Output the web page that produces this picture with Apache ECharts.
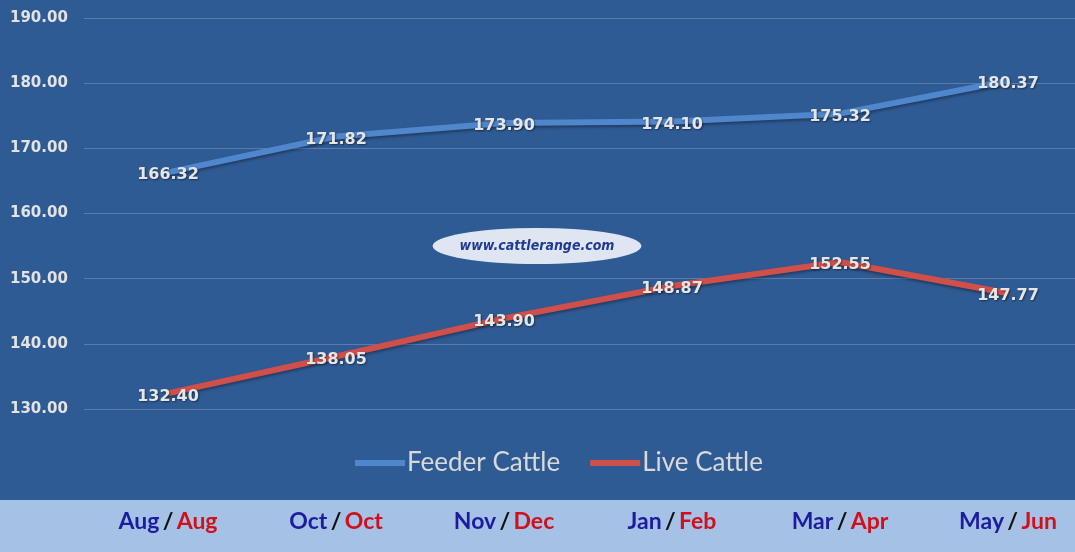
<!DOCTYPE html>
<html>
<head>
<meta charset="utf-8">
<script src="https://cdn.jsdelivr.net/npm/echarts@6/dist/echarts.min.js"></script>
<style>html,body{margin:0;padding:0;background:#2f5b94;}#c{width:1075px;height:552px;}</style>
</head>
<body>
<div id="c"></div>
<script>
var feederMonths = ['Aug','Oct','Nov','Jan','Mar','May'];
var liveMonths = ['Aug','Oct','Dec','Feb','Apr','Jun'];
var feederCattle = [166.32,171.82,173.90,174.10,175.32,180.37];
var liveCattle = [132.40,138.05,143.90,148.87,152.55,147.77];
var yMin = 130, yMax = 190, yStep = 10;

var categories = feederMonths.map(function(m, i){ return m + '|' + liveMonths[i]; });
var chart = echarts.init(document.getElementById('c'));
var labelStyle = {
  show: true, position: 'top', distance: 0, offset: [0, 12],
  color: '#e6e6e6', fontFamily: 'DejaVu Sans', fontWeight: 'bold', fontSize: 16,
  textShadowColor: 'rgba(0,0,0,0.45)', textShadowBlur: 2, textShadowOffsetX: 1, textShadowOffsetY: 1,
  formatter: function(p){ return Number(p.value).toFixed(2); }
};
chart.setOption({
  backgroundColor: '#2f5b94',
  animation: false,
  graphic: [
    { type: 'rect', left: 0, top: 500, shape: { width: 1075, height: 52 }, style: { fill: '#a5c1e5' }, z: -10 },
    { type: 'circle', x: 537, y: 246, scaleX: 5.8, scaleY: 1, shape: { cx: 0, cy: 0, r: 18 }, style: { fill: '#dfe6f2' }, z: 5 },
    { type: 'text', x: 537, y: 246, style: { text: 'www.cattlerange.com', fill: '#1f3a93', font: 'italic bold 14px "DejaVu Sans Condensed"', align: 'center', verticalAlign: 'middle' }, z: 6 }
  ],
  grid: { left: 84, right: -17, top: 18, bottom: 143, outerBoundsMode: 'none', containLabel: false },
  legend: {
    bottom: 76, left: 355, padding: 0, icon: 'rect', itemWidth: 50, itemHeight: 6, itemGap: 30,
    textStyle: { color: '#d9d9d9', fontFamily: 'Lato', fontSize: 26, padding: [0,0,0,-3] },
    data: ['Feeder Cattle','Live Cattle']
  },
  xAxis: {
    type: 'category', data: categories, boundaryGap: true,
    axisLine: { show: false }, axisTick: { show: false },
    axisLabel: {
      margin: 101,
      formatter: function(v){ var s = v.split('|'); return '{a|' + s[0] + '} {s|/} {b|' + s[1] + '}'; },
      rich: {
        a: { color: '#1c1ca0', fontFamily: 'Lato', fontWeight: 'bold', fontSize: 23 },
        s: { color: '#111111', fontFamily: 'Lato', fontWeight: 'bold', fontSize: 23 },
        b: { color: '#d0101a', fontFamily: 'Lato', fontWeight: 'bold', fontSize: 23 }
      }
    }
  },
  yAxis: {
    type: 'value', min: yMin, max: yMax, interval: yStep,
    axisLine: { show: false }, axisTick: { show: false },
    splitLine: { lineStyle: { color: 'rgba(190,205,225,0.3)', width: 1 } },
    axisLabel: { align: 'left', margin: 74, color: '#e3e3e3', fontFamily: 'DejaVu Sans', fontWeight: 'bold', fontSize: 15,
      formatter: function(v){ return v.toFixed(2); } }
  },
  series: [
    { name: 'Feeder Cattle', type: 'line', data: feederCattle, symbol: 'circle', symbolSize: 2, showSymbol: true, color: '#4f86cc',
      itemStyle: { color: '#4f86cc' },
      lineStyle: { width: 6, color: '#4f86cc', shadowColor: 'rgba(0,0,0,0.35)', shadowBlur: 3, shadowOffsetY: 2 },
      label: labelStyle, z: 3 },
    { name: 'Live Cattle', type: 'line', data: liveCattle, symbol: 'circle', symbolSize: 2, showSymbol: true, color: '#cf4f4a',
      itemStyle: { color: '#cf4f4a' },
      lineStyle: { width: 6, color: '#cf4f4a', shadowColor: 'rgba(0,0,0,0.35)', shadowBlur: 3, shadowOffsetY: 2 },
      label: labelStyle, z: 3 }
  ]
});
</script>
</body>
</html>
